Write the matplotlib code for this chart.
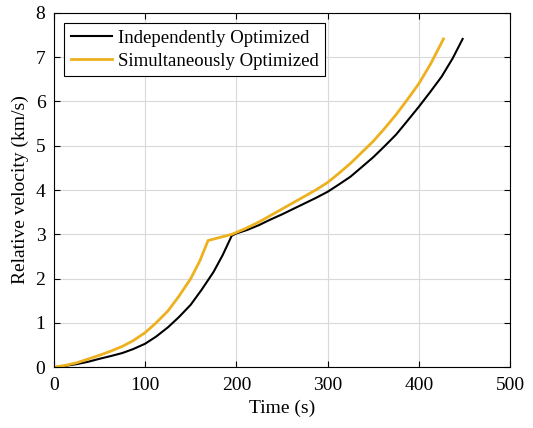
import matplotlib
matplotlib.use("Agg")
import matplotlib.pyplot as plt

# values
t_indep = [0, 12, 25, 37, 50, 62, 75, 87, 100, 112, 125, 137, 150, 162, 175, 185, 195,
           200, 212, 225, 237, 250, 262, 275, 287, 300, 312, 325, 337, 350, 362, 375,
           387, 400, 412, 425, 437, 448]
v_indep = [0, 0.03, 0.07, 0.12, 0.19, 0.25, 0.32, 0.41, 0.53, 0.69, 0.90, 1.13, 1.41,
           1.75, 2.15, 2.53, 2.97, 3.02, 3.10, 3.21, 3.33, 3.45, 3.57, 3.70, 3.82, 3.96,
           4.12, 4.30, 4.51, 4.74, 4.98, 5.25, 5.55, 5.88, 6.20, 6.56, 6.97, 7.41]

t_simul = [0, 12, 25, 37, 50, 62, 75, 87, 100, 112, 125, 137, 150, 160, 169, 182, 195,
           210, 225, 237, 250, 262, 275, 287, 300, 312, 325, 337, 350, 362, 375, 387,
           400, 413, 427]
v_simul = [0, 0.04, 0.10, 0.18, 0.27, 0.36, 0.47, 0.60, 0.78, 1.00, 1.27, 1.60, 2.00,
           2.40, 2.86, 2.93, 3.00, 3.13, 3.28, 3.42, 3.57, 3.71, 3.86, 4.00, 4.17, 4.37,
           4.60, 4.84, 5.10, 5.38, 5.70, 6.03, 6.40, 6.85, 7.41]

plt.rcParams['font.family'] = ['Liberation Serif', 'DejaVu Serif']
plt.rcParams['font.size'] = 14

fig = plt.figure(figsize=(5.33, 4.28), dpi=100)
ax = fig.add_axes([0.101, 0.142, 0.856, 0.828])

ax.plot(t_indep, v_indep, color='black', lw=1.5, label='Independently Optimized')
ax.plot(t_simul, v_simul, color='#EDB120', lw=2.0, label='Simultaneously Optimized')

ax.set_xlim(0, 500)
ax.set_ylim(0, 8)
ax.set_xticks(range(0, 501, 100))
ax.set_yticks(range(0, 9))
ax.grid(True, color='#d9d9d9', lw=0.8)
ax.set_axisbelow(True)
ax.tick_params(direction='in', top=True, right=True, length=4, labelsize=14)
ax.tick_params(axis='x', pad=7)
ax.tick_params(axis='y', pad=6)
for s in ax.spines.values():
    s.set_linewidth(0.8)

ax.set_xlabel('Time (s)', fontsize=14, labelpad=4)
ax.set_ylabel('Relative velocity (km/s)', fontsize=14, labelpad=5)

leg = ax.legend(loc='upper left', fontsize=13.5, frameon=True, fancybox=False,
                edgecolor='black', handlelength=2.2, borderpad=0.35,
                labelspacing=0.3, handletextpad=0.3, borderaxespad=0.55)
leg.get_frame().set_linewidth(0.8)
leg.get_frame().set_alpha(1)

fig.savefig('out.png', dpi=100)
plt.close(fig)
